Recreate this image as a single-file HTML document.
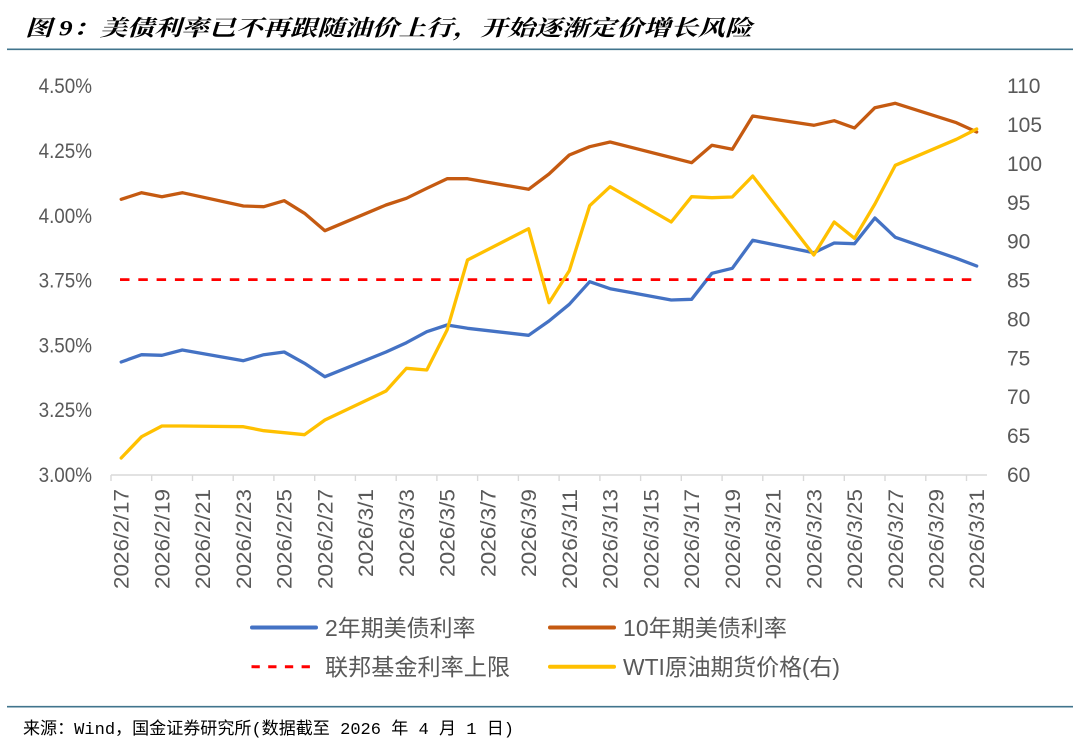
<!DOCTYPE html>
<html><head><meta charset="utf-8"><style>
html,body{margin:0;padding:0;background:#fff;}
svg{display:block;}
text{font-family:"Liberation Sans","Noto Sans CJK SC",sans-serif;}
</style></head><body>
<svg width="1080" height="745" viewBox="0 0 1080 745" xmlns="http://www.w3.org/2000/svg">
<rect width="1080" height="745" fill="#fff"/>
<!-- Title -->
<text x="25" y="35.5" font-size="22" font-weight="bold" font-style="italic" fill="#000" textLength="727" lengthAdjust="spacingAndGlyphs" style="font-family:'Liberation Serif','Noto Serif CJK SC',serif">图 9：美债利率已不再跟随油价上行，开始逐渐定价增长风险</text>
<line x1="7" y1="49.3" x2="1073" y2="49.3" stroke="#41748D" stroke-width="1.6"/>

<!-- Left axis labels -->
<g font-size="21" fill="#595959" text-anchor="end">
<text x="92" y="93.2" textLength="53.4" lengthAdjust="spacingAndGlyphs">4.50%</text>
<text x="92" y="158" textLength="53.4" lengthAdjust="spacingAndGlyphs">4.25%</text>
<text x="92" y="222.8" textLength="53.4" lengthAdjust="spacingAndGlyphs">4.00%</text>
<text x="92" y="287.6" textLength="53.4" lengthAdjust="spacingAndGlyphs">3.75%</text>
<text x="92" y="352.4" textLength="53.4" lengthAdjust="spacingAndGlyphs">3.50%</text>
<text x="92" y="417.2" textLength="53.4" lengthAdjust="spacingAndGlyphs">3.25%</text>
<text x="92" y="482" textLength="53.4" lengthAdjust="spacingAndGlyphs">3.00%</text>
</g>
<!-- Right axis labels -->
<g font-size="21" fill="#595959">
<text x="1007" y="93.2">110</text>
<text x="1007" y="132.1">105</text>
<text x="1007" y="171">100</text>
<text x="1007" y="209.8">95</text>
<text x="1007" y="248.7">90</text>
<text x="1007" y="287.6">85</text>
<text x="1007" y="326.5">80</text>
<text x="1007" y="365.4">75</text>
<text x="1007" y="404.2">70</text>
<text x="1007" y="443.1">65</text>
<text x="1007" y="482">60</text>
</g>

<!-- X axis -->
<line x1="111" y1="475" x2="987" y2="475" stroke="#D9D9D9" stroke-width="1.6"/>
<g stroke="#D9D9D9" stroke-width="1.4">
<line x1="111" y1="475" x2="111" y2="481"/><line x1="151.7" y1="475" x2="151.7" y2="481"/><line x1="192.5" y1="475" x2="192.5" y2="481"/><line x1="233.2" y1="475" x2="233.2" y2="481"/><line x1="273.9" y1="475" x2="273.9" y2="481"/><line x1="314.7" y1="475" x2="314.7" y2="481"/><line x1="355.4" y1="475" x2="355.4" y2="481"/><line x1="396.2" y1="475" x2="396.2" y2="481"/><line x1="436.9" y1="475" x2="436.9" y2="481"/><line x1="477.6" y1="475" x2="477.6" y2="481"/><line x1="518.4" y1="475" x2="518.4" y2="481"/><line x1="559.1" y1="475" x2="559.1" y2="481"/><line x1="599.9" y1="475" x2="599.9" y2="481"/><line x1="640.6" y1="475" x2="640.6" y2="481"/><line x1="681.3" y1="475" x2="681.3" y2="481"/><line x1="722.1" y1="475" x2="722.1" y2="481"/><line x1="762.8" y1="475" x2="762.8" y2="481"/><line x1="803.5" y1="475" x2="803.5" y2="481"/><line x1="844.3" y1="475" x2="844.3" y2="481"/><line x1="885" y1="475" x2="885" y2="481"/><line x1="925.8" y1="475" x2="925.8" y2="481"/><line x1="966.5" y1="475" x2="966.5" y2="481"/>
</g>
<g font-size="21" fill="#595959" text-anchor="end">
<text transform="translate(128.7,489) rotate(-90)" textLength="100" lengthAdjust="spacingAndGlyphs">2026/2/17</text>
<text transform="translate(169.4,489) rotate(-90)" textLength="100" lengthAdjust="spacingAndGlyphs">2026/2/19</text>
<text transform="translate(210.2,489) rotate(-90)" textLength="100" lengthAdjust="spacingAndGlyphs">2026/2/21</text>
<text transform="translate(250.9,489) rotate(-90)" textLength="100" lengthAdjust="spacingAndGlyphs">2026/2/23</text>
<text transform="translate(291.7,489) rotate(-90)" textLength="100" lengthAdjust="spacingAndGlyphs">2026/2/25</text>
<text transform="translate(332.4,489) rotate(-90)" textLength="100" lengthAdjust="spacingAndGlyphs">2026/2/27</text>
<text transform="translate(373.1,489) rotate(-90)" textLength="88" lengthAdjust="spacingAndGlyphs">2026/3/1</text>
<text transform="translate(413.9,489) rotate(-90)" textLength="88" lengthAdjust="spacingAndGlyphs">2026/3/3</text>
<text transform="translate(454.6,489) rotate(-90)" textLength="88" lengthAdjust="spacingAndGlyphs">2026/3/5</text>
<text transform="translate(495.4,489) rotate(-90)" textLength="88" lengthAdjust="spacingAndGlyphs">2026/3/7</text>
<text transform="translate(536.1,489) rotate(-90)" textLength="88" lengthAdjust="spacingAndGlyphs">2026/3/9</text>
<text transform="translate(576.8,489) rotate(-90)" textLength="100" lengthAdjust="spacingAndGlyphs">2026/3/11</text>
<text transform="translate(617.6,489) rotate(-90)" textLength="100" lengthAdjust="spacingAndGlyphs">2026/3/13</text>
<text transform="translate(658.3,489) rotate(-90)" textLength="100" lengthAdjust="spacingAndGlyphs">2026/3/15</text>
<text transform="translate(699.1,489) rotate(-90)" textLength="100" lengthAdjust="spacingAndGlyphs">2026/3/17</text>
<text transform="translate(739.8,489) rotate(-90)" textLength="100" lengthAdjust="spacingAndGlyphs">2026/3/19</text>
<text transform="translate(780.5,489) rotate(-90)" textLength="100" lengthAdjust="spacingAndGlyphs">2026/3/21</text>
<text transform="translate(821.3,489) rotate(-90)" textLength="100" lengthAdjust="spacingAndGlyphs">2026/3/23</text>
<text transform="translate(862,489) rotate(-90)" textLength="100" lengthAdjust="spacingAndGlyphs">2026/3/25</text>
<text transform="translate(902.8,489) rotate(-90)" textLength="100" lengthAdjust="spacingAndGlyphs">2026/3/27</text>
<text transform="translate(943.5,489) rotate(-90)" textLength="100" lengthAdjust="spacingAndGlyphs">2026/3/29</text>
<text transform="translate(984.2,489) rotate(-90)" textLength="100" lengthAdjust="spacingAndGlyphs">2026/3/31</text>
</g>

<!-- Series -->
<g fill="none" stroke-width="3.3" stroke-linejoin="round" stroke-linecap="round">
<path stroke="#4472C4" d="M121.2,362 L141.6,354.7 L161.9,355.3 L182.3,350 L243.4,360.7 L263.8,354.7 L284.2,352 L304.5,363.3 L324.9,376.7 L386,352 L406.4,342.7 L426.8,331.7 L447.1,325 L467.5,328.3 L528.6,335.3 L549,321 L569.3,304.3 L589.7,281.7 L610.1,288.7 L671.2,300 L691.6,299.3 L711.9,273.3 L732.3,268.3 L752.7,240.3 L813.8,252.7 L834.2,243 L854.5,243.7 L874.9,218 L895.3,237.3 L956.4,258.3 L976.7,266"/>
<path stroke="#C55A11" d="M121.2,199.3 L141.6,192.7 L161.9,196.7 L182.3,192.7 L243.4,206 L263.8,206.7 L284.2,200.7 L304.5,213.3 L324.9,230.7 L386,205 L406.4,198.3 L426.8,188.3 L447.1,178.7 L467.5,178.7 L528.6,189.3 L549,174 L569.3,155 L589.7,146.7 L610.1,142 L671.2,157.5 L691.6,162.7 L711.9,145.3 L732.3,149.3 L752.7,116 L813.8,125.3 L834.2,120.7 L854.5,128 L874.9,107.7 L895.3,103.3 L956.4,122.7 L976.7,132"/>
<line x1="120" y1="279.6" x2="978" y2="279.6" stroke="#FF0000" stroke-width="2.8" stroke-dasharray="9.5 8.8" stroke-linecap="butt"/>
<path stroke="#FFC000" d="M121.2,458 L141.6,436.7 L161.9,426 L182.3,426 L243.4,426.7 L263.8,430.7 L284.2,432.7 L304.5,434.7 L324.9,420 L386,391 L406.4,368.3 L426.8,370 L447.1,330 L467.5,260 L528.6,228.7 L549,302.7 L569.3,270.7 L589.7,205.7 L610.1,186.7 L671.2,222 L691.6,196.7 L711.9,197.7 L732.3,197 L752.7,176 L813.8,255 L834.2,222 L854.5,238.3 L874.9,204 L895.3,165.3 L956.4,139.3 L976.7,129"/>
</g>

<!-- Legend -->
<g stroke-width="4" stroke-linecap="round">
<line x1="252" y1="627.5" x2="316" y2="627.5" stroke="#4472C4"/>
<line x1="550" y1="627.5" x2="614" y2="627.5" stroke="#C55A11"/>
<line x1="550" y1="666.7" x2="614" y2="666.7" stroke="#FFC000"/>
</g>
<line x1="251.5" y1="666.7" x2="316" y2="666.7" stroke="#FF0000" stroke-width="3" stroke-dasharray="8.3 8.4"/>
<g font-size="23" fill="#595959">
<text x="325" y="636" textLength="150.5" lengthAdjust="spacingAndGlyphs">2年期美债利率</text>
<text x="623" y="636" textLength="164" lengthAdjust="spacingAndGlyphs">10年期美债利率</text>
<text x="325" y="675.2" textLength="185" lengthAdjust="spacingAndGlyphs">联邦基金利率上限</text>
<text x="623" y="675.2" textLength="217" lengthAdjust="spacingAndGlyphs">WTI原油期货价格(右)</text>
</g>

<!-- Footer -->
<line x1="7" y1="706.7" x2="1073" y2="706.7" stroke="#41748D" stroke-width="1.6"/>
<text x="23" y="734" font-size="17" fill="#000" textLength="491" lengthAdjust="spacingAndGlyphs" style="font-family:'Liberation Mono','Noto Sans CJK SC',monospace">来源：Wind，国金证券研究所(数据截至 2026 年 4 月 1 日)</text>
</svg>
</body></html>
